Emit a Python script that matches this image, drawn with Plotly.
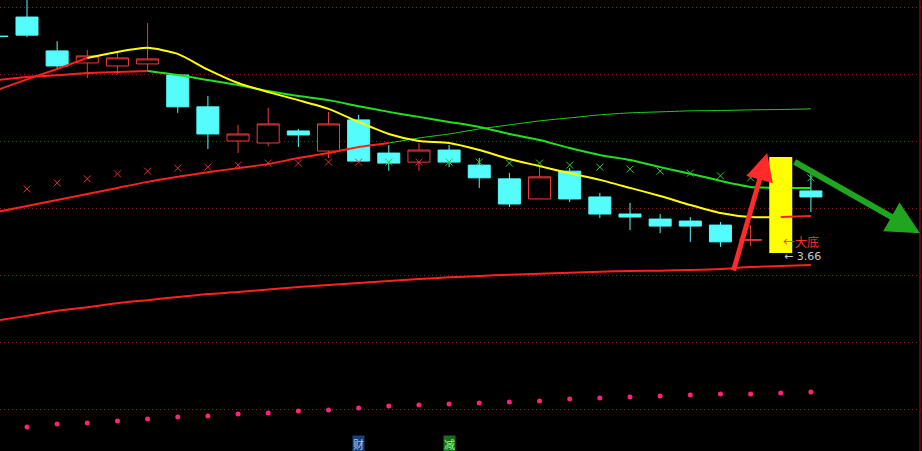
import plotly.graph_objects as go

# ---------------- data ----------------
idx = list(range(28))
opens  = [4.313, 4.370, 4.269, 4.233, 4.224, 4.230, 4.197, 4.102, 4.000, 3.994,
          4.030, 3.970, 4.063, 3.964, 3.937, 3.973, 3.928, 3.887, 3.827, 3.910,
          3.833, 3.782, 3.767, 3.761, 3.749, 3.704, 3.666, 3.851]
highs  = [4.313, 4.440, 4.298, 4.272, 4.266, 4.352, 4.197, 4.134, 4.048, 4.099,
          4.036, 4.087, 4.078, 3.988, 3.994, 3.988, 3.949, 3.905, 3.925, 3.919,
          3.845, 3.815, 3.782, 3.773, 3.758, 3.749, 3.952, 3.905]
lows   = [4.312, 4.310, 4.218, 4.188, 4.200, 4.209, 4.084, 3.976, 3.964, 3.985,
          3.982, 3.949, 3.937, 3.911, 3.911, 3.922, 3.860, 3.803, 3.827, 3.818,
          3.770, 3.734, 3.725, 3.699, 3.684, 3.687, 3.666, 3.788]
closes = [4.312, 4.316, 4.224, 4.254, 4.248, 4.245, 4.102, 4.021, 4.021, 4.051,
          4.018, 4.051, 3.940, 3.934, 3.973, 3.937, 3.890, 3.812, 3.893, 3.827,
          3.782, 3.773, 3.746, 3.746, 3.699, 3.705, 3.952, 3.833]
highlight_bar = 26          # candle drawn as the yellow block

ma_short = [4.152, 4.184, 4.215, 4.248, 4.266, 4.278, 4.260, 4.213, 4.173, 4.146,
            4.122, 4.096, 4.057, 4.021, 4.000, 3.994, 3.973, 3.946, 3.925, 3.904,
            3.884, 3.860, 3.836, 3.809, 3.785, 3.773, 3.773, 3.776]
ma_short_colors = [(0, 3, "#ff2020"), (3, 26, "#ffff00"), (26, 27, "#ff2020")]

ma_mid = [4.182, 4.191, 4.196, 4.203, 4.206, 4.209, 4.197, 4.182, 4.167, 4.149,
          4.134, 4.122, 4.104, 4.087, 4.072, 4.057, 4.042, 4.021, 4.003, 3.979,
          3.958, 3.943, 3.922, 3.902, 3.881, 3.863, 3.860, 3.860]
ma_mid_colors = [(0, 5, "#ff2020"), (5, 27, "#20e020")]

ma_long = [3.788, 3.806, 3.824, 3.842, 3.860, 3.878, 3.893, 3.907, 3.919, 3.931,
           3.949, 3.964, 3.982, 3.994, 4.009, 4.021, 4.036, 4.048, 4.060, 4.069,
           4.078, 4.084, 4.087, 4.090, 4.091, 4.093, 4.094, 4.096]
ma_long_colors = [(0, 13, "#ff2020", 2), (13, 27, "#20d020", 1)]

ma_base = [3.464, 3.478, 3.493, 3.504, 3.516, 3.525, 3.534, 3.543, 3.549, 3.557,
           3.564, 3.570, 3.576, 3.582, 3.588, 3.593, 3.597, 3.601, 3.604, 3.607,
           3.610, 3.612, 3.613, 3.615, 3.618, 3.624, 3.627, 3.630]

cross_idx = list(range(1, 28))
cross_val = [3.857, 3.875, 3.887, 3.902, 3.910, 3.919, 3.922, 3.928, 3.934, 3.934,
             3.937, 3.937, 3.937, 3.937, 3.937, 3.937, 3.934, 3.934, 3.928, 3.922,
             3.916, 3.910, 3.904, 3.896, 3.890, 3.887, 3.890]
cross_red = [1, 2, 3, 4, 5, 6, 7, 8, 9, 10, 11, 12, 14]

dot_idx = list(range(1, 28))
dot_val = [3.146, 3.155, 3.158, 3.164, 3.170, 3.176, 3.179, 3.185, 3.188, 3.194,
           3.197, 3.203, 3.209, 3.212, 3.215, 3.218, 3.221, 3.224, 3.230, 3.233,
           3.236, 3.239, 3.242, 3.245, 3.245, 3.248, 3.251]

grid_levels = [3.2, 3.4, 3.6, 3.8, 4.0, 4.2, 4.4]
low_label = "3.66"
bottom_label = "大底"
tags = [(12, "财", "#9ad0ff", "#1b3f78"), (15, "减", "#7dff7d", "#1d6b1d")]

up_arrow = dict(tail=(24.42, 3.609), tip=(25.55, 3.964))
down_arrow = dict(tail=(26.41, 3.940), tip=(30.62, 3.725))

# ---------------- figure ----------------
RED = "#f03a3a"
CYAN = "#54fcfc"
fig = go.Figure()

cx = [i for i in idx if i != highlight_bar]
fig.add_trace(go.Candlestick(
    x=cx,
    open=[opens[i] for i in cx], high=[highs[i] for i in cx],
    low=[lows[i] for i in cx], close=[closes[i] for i in cx],
    increasing=dict(line=dict(color=RED, width=1), fillcolor="#000000"),
    decreasing=dict(line=dict(color=CYAN, width=1), fillcolor=CYAN),
    whiskerwidth=0, hoverinfo="skip", showlegend=False))

def seg(values, a, b, color, width):
    fig.add_trace(go.Scatter(x=idx[a:b + 1], y=values[a:b + 1], mode="lines",
                             line=dict(color=color, width=width,
                                       shape="spline", smoothing=0.6),
                             hoverinfo="skip", showlegend=False))

seg(ma_base, 0, 27, "#ff2020", 2)
for a, b, c, w in ma_long_colors:
    seg(ma_long, a, b, c, w)
for a, b, c in ma_mid_colors:
    seg(ma_mid, a, b, c, 2)

for red in (True, False):
    xs = [i for i in cross_idx if (i in cross_red) == red]
    ys = [cross_val[cross_idx.index(i)] for i in xs]
    fig.add_trace(go.Scatter(
        x=xs, y=ys, mode="markers",
        marker=dict(symbol="x-thin", size=7,
                    line=dict(width=1, color="#e03030" if red else "#30c830")),
        hoverinfo="skip", showlegend=False))

# highlighted candle (yellow block)
fig.add_trace(go.Scatter(
    x=[highlight_bar, highlight_bar],
    y=[opens[highlight_bar], closes[highlight_bar]],
    mode="lines", line=dict(color="#ffff00", width=23),
    hoverinfo="skip", showlegend=False))

for a, b, c in ma_short_colors:
    seg(ma_short, a, b, c, 2)

fig.add_trace(go.Scatter(
    x=dot_idx, y=dot_val, mode="markers",
    marker=dict(symbol="circle", size=5, color="#ff2277",
                line=dict(width=0)),
    hoverinfo="skip", showlegend=False))

# arrows
for arr, col, w in ((up_arrow, "#ff2a2a", 5), (down_arrow, "#1fa51f", 6)):
    fig.add_annotation(x=arr["tip"][0], y=arr["tip"][1],
                       ax=arr["tail"][0], ay=arr["tail"][1],
                       xref="x", yref="y", axref="x", ayref="y",
                       text="", showarrow=True, arrowhead=2, arrowsize=1.1,
                       arrowwidth=w, arrowcolor=col)

FONT = "Noto Sans CJK SC, DejaVu Sans, sans-serif"
fig.add_annotation(x=highlight_bar + 0.0, y=3.699, xref="x", yref="y",
                   text="←" + bottom_label, showarrow=False, xanchor="left",
                   font=dict(family=FONT, size=12, color="#ff3030"))
fig.add_annotation(x=highlight_bar + 0.05, y=3.654, xref="x", yref="y",
                   text="← " + low_label, showarrow=False, xanchor="left",
                   font=dict(family="DejaVu Sans", size=11, color="#c8c8c8"))

for i, t, fc, bg in tags:
    fig.add_annotation(x=i, y=0, xref="x", yref="paper", yanchor="bottom",
                       text=t, showarrow=False, bgcolor=bg, borderpad=0,
                       yshift=-2,
                       font=dict(family=FONT, size=11, color=fc))

fig.add_shape(type="line", xref="paper", yref="paper", x0=0.9978, x1=0.9978,
              y0=0, y1=1, line=dict(color="#a01818", width=1))

fig.update_layout(
    width=922, height=451, margin=dict(l=0, r=0, t=0, b=0),
    paper_bgcolor="#000000", plot_bgcolor="#000000",
    showlegend=False, boxgap=0.27, boxgroupgap=0,
    xaxis=dict(range=[0.1045, 30.685], showgrid=False, zeroline=False,
               showticklabels=False, rangeslider=dict(visible=False),
               fixedrange=True),
    yaxis=dict(range=[3.07463, 4.42090], tickvals=grid_levels, showgrid=True,
               gridcolor="#8a1a1a", griddash="1px,3px", gridwidth=1,
               zeroline=False, showticklabels=False, fixedrange=True),
)

fig.write_html("out.html", config={"displayModeBar": False},
               post_script="document.body.style.margin='0';"
                           "document.body.style.background='#000';")
